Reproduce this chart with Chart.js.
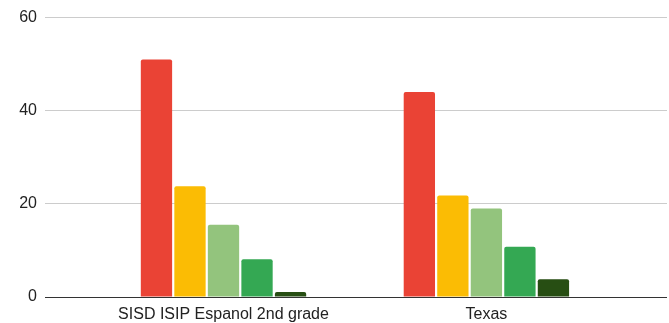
<!DOCTYPE html>
<html>
<head>
<meta charset="utf-8">
<script src="https://cdn.jsdelivr.net/npm/chart.js@4"></script>
<style>
  html, body { margin: 0; padding: 0; background: #fff; }
  #wrap { width: 669px; height: 323px; }
</style>
</head>
<body>
<div id="wrap"><canvas id="chart"></canvas></div>
<script>
/* ========= DATA ========= */
const categories = ["SISD ISIP Espanol 2nd grade", "Texas"];
const seriesA = [51, 44];
const seriesB = [23.8, 21.8];
const seriesC = [15.5, 19];
const seriesD = [8.1, 10.8];
const seriesE = [1.1, 3.8];
const yTicks = [0, 20, 40, 60];

const colors = ["#ea4335", "#fbbc04", "#93c47d", "#34a853", "#274e13"];

function toPoints(values) {
  return values.map((v, i) => ({ x: i, y: v }));
}

/* ========= CHART ========= */
const series = [seriesA, seriesB, seriesC, seriesD, seriesE];

new Chart(document.getElementById("chart"), {
  type: "bar",
  data: {
    datasets: series.map((s, i) => ({
      data: toPoints(s),
      backgroundColor: colors[i],
      borderRadius: { topLeft: 2, topRight: 2 },
      borderSkipped: "start",
      categoryPercentage: 0.6375,
      barPercentage: 0.934
    }))
  },
  options: {
    responsive: true,
    maintainAspectRatio: false,
    animation: false,
    layout: { padding: { left: 0, right: 2, top: 16, bottom: 0 } },
    plugins: { legend: { display: false }, tooltip: { enabled: false } },
    scales: {
      x: {
        type: "linear",
        offset: false,
        min: -0.679,
        max: 1.687,
        grid: { display: false, offset: false },
        border: { display: false },
        ticks: {
          stepSize: 1,
          includeBounds: false,
          autoSkip: false,
          maxRotation: 0,
          padding: 0,
          color: "#222",
          font: { family: "Liberation Sans", size: 16 },
          callback: v => categories[v] ?? ""
        },
        afterFit: s => { s.height = 26; }
      },
      y: {
        min: 0,
        max: 60,
        afterBuildTicks: s => { s.ticks = yTicks.map(v => ({ value: v })); },
        grid: {
          drawTicks: false,
          color: c => (c.tick && c.tick.value === 0 ? "#333" : "#ccc"),
          lineWidth: 1
        },
        border: { display: false },
        ticks: {
          padding: 8,
          color: "#222",
          font: { family: "Liberation Sans", size: 16 }
        },
        afterFit: s => { s.width = 45; }
      }
    }
  }
});
</script>
</body>
</html>
